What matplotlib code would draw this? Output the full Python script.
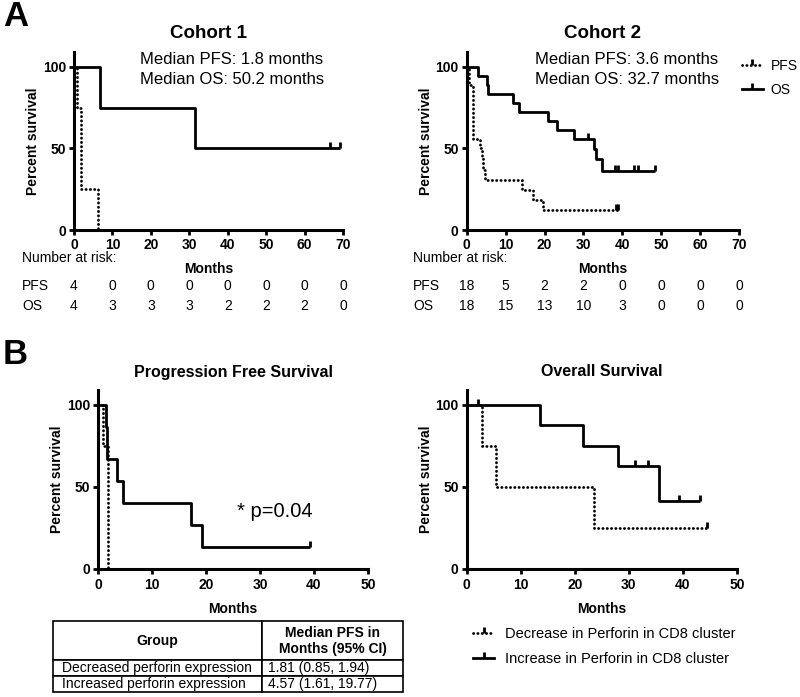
import matplotlib
matplotlib.use("Agg")
import matplotlib.pyplot as plt
from matplotlib.lines import Line2D
import matplotlib.transforms as mtransforms

plt.rcParams["font.family"] = ["Liberation Sans", "DejaVu Sans"]

# ---- Cohort 1 (months, percent survival) ----
c1_pfs_t = [0, 0.87, 1.82, 6.2]
c1_pfs_s = [100, 75, 25, 0]
c1_os_t = [0, 6.8, 31.5, 69.2]
c1_os_s = [100, 75, 50, 50]
c1_os_cens_t = [66.6, 69.2]
c1_os_cens_s = [50, 50]

# ---- Cohort 2 ----
c2_pfs_t = [0, 0.67, 1.6, 3.5, 3.9, 4.3, 4.7, 14.1, 17.1, 19.7, 39.0]
c2_pfs_s = [100, 88.9, 55.6, 50.0, 44.4, 37.0, 30.9, 24.7, 18.5, 12.4, 12.4]
c2_pfs_cens_t = [38.3, 39.0]
c2_pfs_cens_s = [12.4, 12.4]
c2_os_t = [0, 3.0, 5.1, 5.6, 12.0, 13.5, 21.0, 23.3, 27.6, 32.6, 33.2, 34.9, 48.4]
c2_os_s = [100, 94.4, 88.9, 83.3, 77.8, 72.2, 66.7, 61.1, 55.6, 49.4, 43.2, 36.3, 36.3]
c2_os_cens_t = [31.1, 38.0, 39.0, 43.1, 44.1, 48.4]
c2_os_cens_s = [55.6, 36.3, 36.3, 36.3, 36.3, 36.3]

# number at risk
risk_times = [0, 10, 20, 30, 40, 50, 60, 70]
c1_risk_pfs = [4, 0, 0, 0, 0, 0, 0, 0]
c1_risk_os = [4, 3, 3, 3, 2, 2, 2, 0]
c2_risk_pfs = [18, 5, 2, 2, 0, 0, 0, 0]
c2_risk_os = [18, 15, 13, 10, 3, 0, 0, 0]

# ---- Panel B: perforin groups ----
bpfs_dec_t = [0, 0.85, 1.81, 1.94]
bpfs_dec_s = [100, 75, 25, 0]
bpfs_inc_t = [0, 1.48, 1.55, 1.61, 1.68, 1.75, 3.55, 4.57, 17.3, 19.3, 39.2]
bpfs_inc_s = [100, 93.3, 86.7, 80.0, 73.3, 66.7, 53.3, 40.0, 26.7, 13.3, 13.3]
bpfs_inc_cens_t = [39.2]
bpfs_inc_cens_s = [13.3]

bos_dec_t = [0, 2.8, 5.4, 23.5, 44.4]
bos_dec_s = [100, 75, 50, 25, 25]
bos_dec_cens_t = [44.4]
bos_dec_cens_s = [25]
bos_inc_t = [0, 13.6, 21.5, 27.9, 35.5, 43.2]
bos_inc_s = [100, 87.5, 75.0, 62.5, 41.7, 41.7]
bos_inc_cens_t = [2.0, 31.2, 33.6, 39.2, 43.2]
bos_inc_cens_s = [100, 62.5, 62.5, 41.7, 41.7]

table_header = ["Group", "Median PFS in\nMonths (95% CI)"]
table_rows = [["Decreased perforin expression", "1.81 (0.85, 1.94)"],
              ["Increased perforin expression", "4.57 (1.61, 19.77)"]]

W, H = 800, 697
fig = plt.figure(figsize=(8, 6.97), dpi=100)


def box(l, r, top, bottom):
    return [l / W, 1 - bottom / H, (r - l) / W, (bottom - top) / H]


def fx(x):
    return x / W


def fy(y):
    return 1 - y / H


DOT = (0, (0.1, 1.45))
LW = 2.0


def km(ax, t, s, dotted=False, ct=None, cs=None):
    ls = DOT if dotted else "-"
    ax.step(t, s, where="post", color="black", lw=LW, ls=ls,
            clip_on=False, solid_capstyle="butt", dash_capstyle="round")
    if ct:
        # vertical censor ticks pointing up
        ax.plot(ct, cs, ls="none", marker=2, ms=4.5, mew=2, color="black",
                clip_on=False)


def style(ax, xmax):
    ax.set_xlim(0, xmax)
    ax.set_ylim(0, 109)
    for sp in ["top", "right"]:
        ax.spines[sp].set_visible(False)
    for sp in ["left", "bottom"]:
        ax.spines[sp].set_linewidth(2.2)
    ax.set_yticks([0, 50, 100])
    ax.set_xticks(list(range(0, xmax + 1, 10)))
    ax.tick_params(direction="out", length=3.8, width=2, labelsize=10, pad=2)
    for lbl in ax.get_xticklabels() + ax.get_yticklabels():
        lbl.set_fontweight("bold")
    ax.set_ylabel("Percent survival", fontsize=10, fontweight="bold", labelpad=2)
    ax.set_facecolor("none")


# ---- Panel A ----
ax1 = fig.add_axes(box(74, 343, 52, 230))
km(ax1, c1_pfs_t, c1_pfs_s, dotted=True)
km(ax1, c1_os_t, c1_os_s, ct=c1_os_cens_t, cs=c1_os_cens_s)
style(ax1, 70)

ax2 = fig.add_axes(box(466.7, 739, 52, 230))
km(ax2, c2_pfs_t, c2_pfs_s, dotted=True, ct=c2_pfs_cens_t, cs=c2_pfs_cens_s)
km(ax2, c2_os_t, c2_os_s, ct=c2_os_cens_t, cs=c2_os_cens_s)
style(ax2, 70)

fig.text(fx(208.5), fy(33), "Cohort 1", fontsize=13.5, fontweight="bold",
         ha="center", va="center")
fig.text(fx(603), fy(33), "Cohort 2", fontsize=13.5, fontweight="bold",
         ha="center", va="center")
fig.text(fx(232), fy(60), "Median PFS: 1.8 months", fontsize=12, ha="center", va="center")
fig.text(fx(232), fy(80), "Median OS: 50.2 months", fontsize=12, ha="center", va="center")
fig.text(fx(627), fy(60), "Median PFS: 3.6 months", fontsize=12, ha="center", va="center")
fig.text(fx(627), fy(80), "Median OS: 32.7 months", fontsize=12, ha="center", va="center")

leg_handles = [Line2D([], [], color="black", lw=LW, ls=DOT, marker=2, ms=4.5, mew=2,
                      dash_capstyle="round"),
               Line2D([], [], color="black", lw=LW, ls="-", marker=2, ms=4.5, mew=2)]
ax2.legend(leg_handles, ["PFS", "OS"], loc="upper left",
           bbox_to_anchor=(fx(735), fy(52)), bbox_transform=fig.transFigure,
           frameon=False, borderpad=0, handlelength=1.5, handletextpad=0.55,
           labelspacing=0.75, fontsize=10, numpoints=1)

for ax, lx, rp, ro in [(ax1, 22, c1_risk_pfs, c1_risk_os),
                       (ax2, 413, c2_risk_pfs, c2_risk_os)]:
    x0, x1 = ax.get_position().x0, ax.get_position().x1
    fig.text(fx(lx), fy(258), "Number at risk:", fontsize=10, ha="left", va="center")
    fig.text((x0 + x1) / 2, fy(269), "Months", fontsize=10, fontweight="bold",
             ha="center", va="center")
    fig.text(fx(lx), fy(286), "PFS", fontsize=10, ha="left", va="center")
    fig.text(fx(lx), fy(306), "OS", fontsize=10, ha="left", va="center")
    trans = mtransforms.blended_transform_factory(ax.transData, fig.transFigure)
    for t, a, b in zip(risk_times, rp, ro):
        ax.text(t, fy(286), str(a), fontsize=10, ha="center", va="center",
                transform=trans, clip_on=False)
        ax.text(t, fy(306), str(b), fontsize=10, ha="center", va="center",
                transform=trans, clip_on=False)

fig.text(fx(3), fy(16), "A", fontsize=25, fontweight="bold", ha="left", va="center")
fig.text(fx(3), fy(355), "B", fontsize=25, fontweight="bold", ha="left", va="center")

# ---- Panel B ----
ax3 = fig.add_axes(box(98, 368, 390, 569))
km(ax3, bpfs_dec_t, bpfs_dec_s, dotted=True)
km(ax3, bpfs_inc_t, bpfs_inc_s, ct=bpfs_inc_cens_t, cs=bpfs_inc_cens_s)
style(ax3, 50)
ax3.tick_params(axis="x", pad=3)
ax3.set_xlabel("Months", fontsize=10, fontweight="bold", labelpad=7)
ax3.text(25.7, 34.8, "* p=0.04", fontsize=14.5, ha="left", va="center")

ax4 = fig.add_axes(box(466.7, 737, 390, 569))
km(ax4, bos_dec_t, bos_dec_s, dotted=True, ct=bos_dec_cens_t, cs=bos_dec_cens_s)
km(ax4, bos_inc_t, bos_inc_s, ct=bos_inc_cens_t, cs=bos_inc_cens_s)
style(ax4, 50)
ax4.tick_params(axis="x", pad=3)
ax4.set_xlabel("Months", fontsize=10, fontweight="bold", labelpad=7)

fig.text(fx(233), fy(372), "Progression Free Survival", fontsize=11.5,
         fontweight="bold", ha="center", va="center")
fig.text(fx(602), fy(372), "Overall Survival", fontsize=11.5,
         fontweight="bold", ha="center", va="center")

ax4.legend(leg_handles, ["Decrease in Perforin in CD8 cluster",
                         "Increase in Perforin in CD8 cluster"],
           loc="upper left", bbox_to_anchor=(fx(466), fy(620)),
           bbox_transform=fig.transFigure, frameon=False, borderpad=0,
           handlelength=1.4, handletextpad=0.8, labelspacing=0.75,
           fontsize=10.5, numpoints=1)

# ---- table ----
tab_ax = fig.add_axes(box(53, 403, 621, 692))
tab_ax.axis("off")
tbl = tab_ax.table(cellText=table_rows, colLabels=table_header,
                   colWidths=[209 / 350, 141 / 350], bbox=[0, 0, 1, 1],
                   cellLoc="left")
tbl.auto_set_font_size(False)
tbl.set_fontsize(10)
for (r, c), cell in tbl.get_celld().items():
    cell.set_linewidth(1.2)
    cell.set_edgecolor("black")
    if r == 0:
        cell.set_height(40)
        cell.get_text().set_fontweight("bold")
        cell.get_text().set_ha("center")
        cell._loc = "center"
    else:
        cell.set_height(16)
        cell.PAD = 0.045

fig.savefig("out.png", dpi=100)
